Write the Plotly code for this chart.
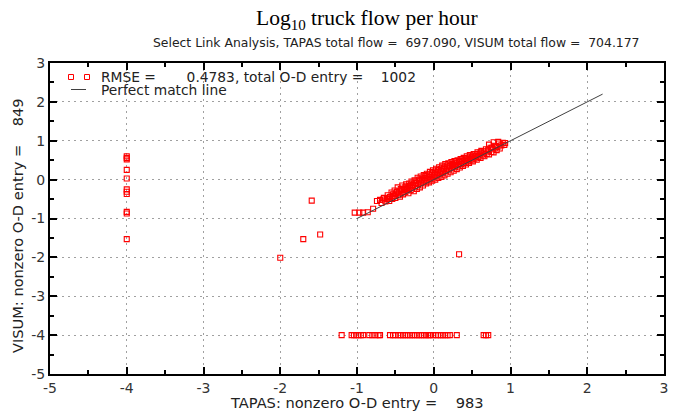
import plotly.graph_objects as go

# ---- data ----
band_x = [-0.74,-0.70,-0.68,-0.65,-0.63,-0.61,-0.60,-0.58,-0.57,-0.55,-0.54,-0.52,-0.51,-0.50,-0.49,
          -0.47,-0.46,-0.45,-0.44,-0.43,-0.42,-0.41,-0.40,-0.39,-0.38,-0.37,-0.36,-0.35,-0.34,-0.33,
          -0.32,-0.31,-0.30,-0.29,-0.28,-0.27,-0.26,-0.25,-0.24,-0.23,-0.22,-0.21,-0.20,-0.19,-0.18,
          -0.17,-0.16,-0.15,-0.14,-0.13,-0.12,-0.11,-0.10,-0.09,-0.08,-0.07,-0.06,-0.05,-0.04,-0.03,
          -0.02,-0.01,0.00,0.01,0.02,0.03,0.04,0.05,0.06,0.07,0.08,0.09,0.10,0.11,0.12,
          0.13,0.14,0.15,0.16,0.17,0.18,0.19,0.20,0.21,0.22,0.23,0.24,0.25,0.26,0.27,
          0.28,0.29,0.30,0.31,0.32,0.33,0.34,0.35,0.36,0.37,0.38,0.39,0.40,0.41,0.42,
          0.43,0.44,0.45,0.46,0.47,0.48,0.50,0.51,0.52,0.53,0.55,0.56,0.57,0.58,0.60,
          0.61,0.62,0.64,0.65,0.66,0.68,0.69,0.71,0.72,0.74,0.75,0.77,0.78,0.80,0.82,
          0.83,0.85,0.86,0.88,0.90,0.92,0.93,0.72,0.78,0.84,
          -0.66,-0.59,-0.53,-0.48,-0.42,-0.37,-0.33,-0.28,-0.24,-0.19,-0.15,-0.11,-0.06,-0.02,
          0.02,0.06,0.11,0.15,0.19,0.24,0.28,0.33,0.37,0.42,0.47,0.51,0.56,0.61,0.66,0.71,0.76,0.81]
band_y = [-0.55,-0.52,-0.60,-0.47,-0.56,-0.50,-0.40,-0.55,-0.45,-0.33,-0.50,-0.42,-0.28,-0.47,-0.36,
          -0.20,-0.40,-0.30,-0.44,-0.24,-0.35,-0.15,-0.38,-0.27,-0.20,-0.32,-0.12,-0.28,-0.22,-0.35,
          -0.10,-0.18,-0.27,-0.05,-0.22,-0.14,-0.30,-0.02,-0.17,-0.09,-0.24,0.05,-0.12,-0.03,-0.20,
          0.08,-0.08,0.00,-0.15,0.12,-0.05,0.04,-0.10,0.15,-0.02,0.08,-0.07,0.20,0.02,0.12,
          -0.03,0.24,0.06,0.16,0.00,0.28,0.10,0.19,0.04,0.32,0.14,0.23,0.07,0.36,0.18,
          0.27,0.11,0.40,0.22,0.31,0.15,0.42,0.26,0.35,0.19,0.45,0.30,0.38,0.23,0.48,
          0.33,0.42,0.27,0.50,0.37,0.45,0.31,0.53,0.40,0.48,0.35,0.56,0.43,0.51,0.39,
          0.60,0.47,0.54,0.43,0.63,0.50,0.57,0.47,0.66,0.54,0.61,0.51,0.70,0.58,0.65,
          0.56,0.74,0.62,0.69,0.60,0.78,0.66,0.73,0.65,0.82,0.71,0.78,0.70,0.87,0.76,
          0.84,0.93,0.80,0.88,0.95,0.89,0.94,0.90,0.96,0.97,
          -0.51,-0.48,-0.38,-0.31,-0.26,-0.24,-0.16,-0.10,-0.05,0.00,0.03,0.09,0.13,0.18,
          0.21,0.25,0.29,0.33,0.37,0.40,0.44,0.48,0.52,0.55,0.59,0.62,0.66,0.70,0.73,0.77,0.82,0.86]

low_x = [-1.03, -0.97, -0.92, -0.86, -0.79]
low_y = [-0.85, -0.85, -0.85, -0.84, -0.75]

col_x = [-4.0] * 11
col_y = [0.60, 0.56, 0.52, 0.25, 0.03, -0.25, -0.31, -0.37, -0.83, -0.87, -1.53]

iso_x = [-1.59, -1.48, -1.70, -2.00, 0.33]
iso_y = [-0.54, -1.41, -1.53, -2.01, -1.92]

row_x = [-1.20, -1.07, -1.04, -1.01, -0.98, -0.95, -0.92, -0.84, -0.80, -0.76, -0.72, -0.70,
         -0.57, -0.53, -0.50, -0.46, -0.43, -0.40, -0.37, -0.34, -0.31, -0.28, -0.25, -0.22,
         -0.19, -0.16, -0.13, -0.10, -0.07, -0.05, -0.01, 0.03, 0.06, 0.09, 0.12, 0.15, 0.18,
         0.21, 0.30, 0.65, 0.68, 0.71]
row_y = [-4.0] * len(row_x)

line_x = [-1.0, 2.2]
line_y = [-1.0, 2.2]

tick_vals = [-5, -4, -3, -2, -1, 0, 1, 2, 3]
tick_text = ["-5", "-4", "-3", "-2", "-1", "0", "1", "2", "3"]

title = "Log<sub>10</sub> truck flow per hour"
subtitle = "Select Link Analysis, TAPAS total flow =\u00a0\u00a0697.090, VISUM total flow =\u00a0\u00a0704.177"
xlabel = "TAPAS: nonzero O-D entry =\u00a0\u00a0\u00a0\u00a0983"
ylabel = "VISUM: nonzero O-D entry =\u00a0\u00a0\u00a0\u00a0849"
leg1 = "RMSE =\u00a0\u00a0\u00a0\u00a0\u00a0\u00a0\u00a00.4783, total O-D entry =\u00a0\u00a0\u00a0\u00a01002"
leg2 = "Perfect match line"

# ---- figure ----
xs = band_x + low_x + col_x + iso_x + row_x
ys = band_y + low_y + col_y + iso_y + row_y

RED = "#ff0000"
fig = go.Figure()
fig.add_trace(go.Scatter(x=xs, y=ys, mode="markers", name="RMSE",
                         marker=dict(symbol="square-open", size=5, color=RED,
                                     line=dict(width=1.1, color=RED))))
fig.add_trace(go.Scatter(x=line_x, y=line_y, mode="lines", name=leg2,
                         line=dict(color="#404040", width=1)))

FONT = "DejaVu Sans"
axis_common = dict(range=[-5, 3], tickmode="array", tickvals=tick_vals, ticktext=tick_text,
                   showline=True, linecolor="black",
                   linewidth=2, mirror="allticks", ticks="inside", ticklen=7, tickwidth=2,
                   tickcolor="black", showgrid=True, gridcolor="#a0a0a0", gridwidth=1,
                   griddash="2px,4px", zeroline=False,
                   tickfont=dict(family=FONT, size=14, color="#333333"),
                   minor=dict(dtick=0.5, tick0=-5, ticks="inside", ticklen=4, tickwidth=1.5,
                              tickcolor="black", showgrid=False))
fig.update_xaxes(**axis_common)
fig.update_yaxes(**axis_common)

L, R, T, B = 50, 20, 63, 37
W, H = 684, 411
pw, ph = W - L - R, H - T - B

def px(x):
    return (x - L) / pw

def py(y):
    return (H - B - y) / ph

TXT = "#222222"
ann = []
ann.append(dict(text=title, x=px(367), y=py(19), xref="paper", yref="paper", showarrow=False,
                xanchor="center", yanchor="middle",
                font=dict(family="Liberation Serif", size=21.5, color="black")))
ann.append(dict(text=subtitle, x=px(396), y=py(42), xref="paper", yref="paper", showarrow=False,
                xanchor="center", yanchor="middle", font=dict(family=FONT, size=12.4, color=TXT)))
ann.append(dict(text=xlabel, x=px(357), y=py(402.5), xref="paper", yref="paper", showarrow=False,
                xanchor="center", yanchor="middle", font=dict(family=FONT, size=14.6, color=TXT)))
ann.append(dict(text=ylabel, x=px(17), y=py(226), xref="paper", yref="paper", showarrow=False,
                xanchor="center", yanchor="middle", textangle=-90,
                font=dict(family=FONT, size=14.6, color=TXT)))
ann.append(dict(text=leg1, x=px(99), y=py(76.5), xref="paper", yref="paper", showarrow=False,
                xanchor="left", yanchor="middle", font=dict(family=FONT, size=13.8, color=TXT)))
ann.append(dict(text=leg2, x=px(99), y=py(90), xref="paper", yref="paper", showarrow=False,
                xanchor="left", yanchor="middle", font=dict(family=FONT, size=13.8, color=TXT)))

shapes = []
for cx in (71, 87):
    shapes.append(dict(type="rect", xref="paper", yref="paper", xsizemode="pixel", ysizemode="pixel",
                       xanchor=px(cx), yanchor=py(77), x0=-2.5, x1=2.5, y0=-2.5, y1=2.5,
                       line=dict(color=RED, width=1)))
shapes.append(dict(type="line", xref="paper", yref="paper", x0=px(71), x1=px(86), y0=py(89.5), y1=py(89.5),
                   line=dict(color="#404040", width=1)))

fig.update_layout(width=W, height=H, margin=dict(l=L, r=R, t=T, b=B),
                  plot_bgcolor="white", paper_bgcolor="white", showlegend=False,
                  annotations=ann, shapes=shapes)

fig.write_html("out.html", config={"displayModeBar": False},
               post_script="document.body.style.margin='0';document.body.style.overflow='hidden';")
